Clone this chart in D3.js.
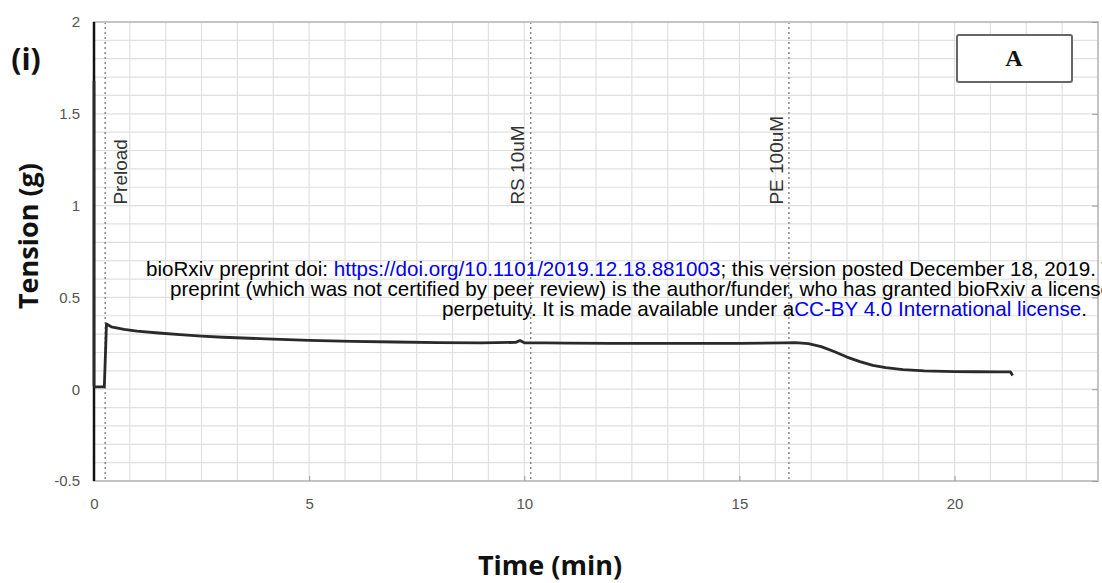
<!DOCTYPE html>
<html>
<head>
<meta charset="utf-8">
<script src="https://cdn.jsdelivr.net/npm/d3@7"></script>
<style>
  body { margin: 0; background: #fff; }
  svg { display: block; }
</style>
</head>
<body>
<svg id="chart" width="1102" height="583"></svg>
<script>
// trace (minutes, grams)
var timeMin = [0, 0, 0.02, 0.24, 0.29, 0.4, 0.7, 1.0, 1.5, 2, 2.5, 3, 4, 5, 6, 7, 8, 9, 9.8, 9.9, 10.0, 10.5, 11, 12, 13, 14, 15, 16, 16.3, 16.6, 16.9, 17.2, 17.5, 17.8, 18.1, 18.4, 18.8, 19.3, 20, 20.5, 21, 21.3, 21.35];
var tension = [1.68, 0.02, 0.013, 0.013, 0.355, 0.34, 0.326, 0.316, 0.306, 0.297, 0.289, 0.283, 0.274, 0.266, 0.26, 0.257, 0.254, 0.252, 0.255, 0.265, 0.253, 0.252, 0.251, 0.25, 0.25, 0.25, 0.25, 0.252, 0.254, 0.248, 0.232, 0.205, 0.175, 0.15, 0.13, 0.117, 0.107, 0.1, 0.096, 0.095, 0.094, 0.094, 0.075];

var eventTimes = [0.26, 10.15, 16.15];
var eventLabels = ["Preload", "RS 10uM", "PE 100uM"];

var xTicks = [0, 5, 10, 15, 20];
var yTicks = [-0.5, 0, 0.5, 1, 1.5, 2];

var watermark = [
  [["bioRxiv preprint doi: ", "#000"], ["https://doi.org/10.1101/2019.12.18.881003", "#0000ee"], ["; this version posted December 18, 2019. The copyright holder for this", "#000"]],
  [["preprint (which was not certified by peer review) is the author/funder, who has granted bioRxiv a license to display the preprint in", "#000"]],
  [["perpetuity. It is made available under a", "#000"], ["CC-BY 4.0 International license", "#0000ee"], [".", "#000"]]
];
var watermarkX = [146, 170, 442];

var svg = d3.select("#chart");
var pLeft = 94, pRight = 1098, pTop = 22, pBottom = 481;

var x = d3.scaleLinear().domain([0, 1400 / 60]).range([pLeft, pRight]);
var y = d3.scaleLinear().domain([-0.5, 2]).range([pBottom, pTop]);

// grid: every 50 s and every 0.1 g
var g = svg.append("g");
g.selectAll(".vg").data(d3.range(50, 1400, 50).map(function(s) { return s / 60; }))
  .enter().append("line")
  .attr("x1", function(d) { return x(d); }).attr("x2", function(d) { return x(d); })
  .attr("y1", pTop).attr("y2", pBottom)
  .attr("stroke", "#e0e0e0").attr("stroke-width", 1.2);
g.selectAll(".hg").data(d3.range(-4, 20).map(function(i) { return i / 10; }))
  .enter().append("line")
  .attr("x1", pLeft).attr("x2", pRight)
  .attr("y1", function(d) { return y(d); }).attr("y2", function(d) { return y(d); })
  .attr("stroke", "#e0e0e0").attr("stroke-width", 1.2);

// event markers
g.selectAll(".ev").data(eventTimes).enter().append("line")
  .attr("x1", function(d) { return x(d); }).attr("x2", function(d) { return x(d); })
  .attr("y1", pTop).attr("y2", pBottom)
  .attr("stroke", "#777").attr("stroke-width", 1.3)
  .attr("stroke-dasharray", "2,3");

var labelDx = [22, -7, -6];
g.selectAll(".evl").data(eventTimes).enter().append("text")
  .attr("transform", function(d, i) {
    return "translate(" + (x(d) + labelDx[i]) + "," + (y(1.0) - 1) + ") rotate(-90)";
  })
  .attr("text-anchor", "start")
  .attr("font-family", "Liberation Sans, Arial, sans-serif")
  .attr("font-size", 19)
  .attr("fill", "#333")
  .text(function(d, i) { return eventLabels[i]; });

// frame
svg.append("rect")
  .attr("x", pLeft).attr("y", pTop)
  .attr("width", pRight - pLeft).attr("height", pBottom - pTop)
  .attr("fill", "none").attr("stroke", "#c4c4c4").attr("stroke-width", 2);

// inner ticks
var xAx = svg.append("g").attr("transform", "translate(0," + pBottom + ")")
  .call(d3.axisTop(x).tickValues(xTicks).tickSize(5).tickFormat(""));
xAx.select(".domain").remove();
xAx.selectAll("line").attr("stroke", "#999");
var yAxR = svg.append("g").attr("transform", "translate(" + pRight + ",0)")
  .call(d3.axisLeft(y).tickValues(yTicks).tickSize(6).tickFormat(""));
yAxR.select(".domain").remove();
yAxR.selectAll("line").attr("stroke", "#999");

// tick labels
var xLab = svg.append("g").attr("transform", "translate(0," + pBottom + ")")
  .call(d3.axisBottom(x).tickValues(xTicks).tickSize(0).tickPadding(17).tickFormat(d3.format("d")));
xLab.select(".domain").remove();
xLab.selectAll("text").attr("font-family", "Liberation Sans, Arial, sans-serif")
  .attr("font-size", 15).attr("fill", "#555");

var yLab = svg.append("g").attr("transform", "translate(" + pLeft + ",0)")
  .call(d3.axisLeft(y).tickValues(yTicks).tickSize(0).tickPadding(14).tickFormat(function(d) { return String(d); }));
yLab.select(".domain").remove();
yLab.selectAll("text").attr("font-family", "Liberation Sans, Arial, sans-serif")
  .attr("font-size", 15).attr("fill", "#555");

// left axis line (dark)
svg.append("line")
  .attr("x1", pLeft).attr("x2", pLeft).attr("y1", pTop).attr("y2", pBottom)
  .attr("stroke", "#111").attr("stroke-width", 2.5);

// trace
var line = d3.line()
  .x(function(d, i) { return x(timeMin[i]); })
  .y(function(d) { return y(d); });
svg.append("path")
  .datum(tension)
  .attr("fill", "none")
  .attr("stroke", "#2a2a2a")
  .attr("stroke-width", 2.8)
  .attr("stroke-linejoin", "round")
  .attr("d", line);

// legend box
svg.append("rect")
  .attr("x", 957).attr("y", 35).attr("width", 115).attr("height", 47)
  .attr("rx", 2)
  .attr("fill", "#fff").attr("stroke", "#666").attr("stroke-width", 2);
svg.append("text")
  .attr("x", 1014).attr("y", 66)
  .attr("text-anchor", "middle")
  .attr("font-family", "Liberation Serif, Times New Roman, serif")
  .attr("font-weight", "bold").attr("font-size", 24)
  .attr("fill", "#111")
  .text("A");

// axis titles
svg.append("text")
  .attr("x", 26).attr("y", 70)
  .attr("text-anchor", "middle")
  .attr("font-family", "Open Sans, Liberation Sans, sans-serif")
  .attr("font-weight", "bold").attr("font-size", 30)
  .attr("fill", "#111")
  .text("(i)");

svg.append("text")
  .attr("transform", "translate(38,236) rotate(-90)")
  .attr("text-anchor", "middle")
  .attr("font-family", "Open Sans, Liberation Sans, sans-serif")
  .attr("font-weight", "bold").attr("font-size", 27)
  .attr("fill", "#111")
  .text("Tension (g)");

svg.append("text")
  .attr("x", 550).attr("y", 575)
  .attr("text-anchor", "middle")
  .attr("font-family", "Open Sans, Liberation Sans, sans-serif")
  .attr("font-weight", "bold").attr("font-size", 27)
  .attr("fill", "#111")
  .text("Time (min)");

// bioRxiv overlay
var wm = svg.append("g");
watermark.forEach(function(parts, i) {
  var t = wm.append("text")
    .attr("x", watermarkX[i]).attr("y", 276 + i * 20)
    .attr("font-family", "Liberation Sans, Arial, sans-serif")
    .attr("font-size", 20.6);
  parts.forEach(function(p) {
    t.append("tspan").attr("fill", p[1]).text(p[0]);
  });
});
</script>
</body>
</html>
